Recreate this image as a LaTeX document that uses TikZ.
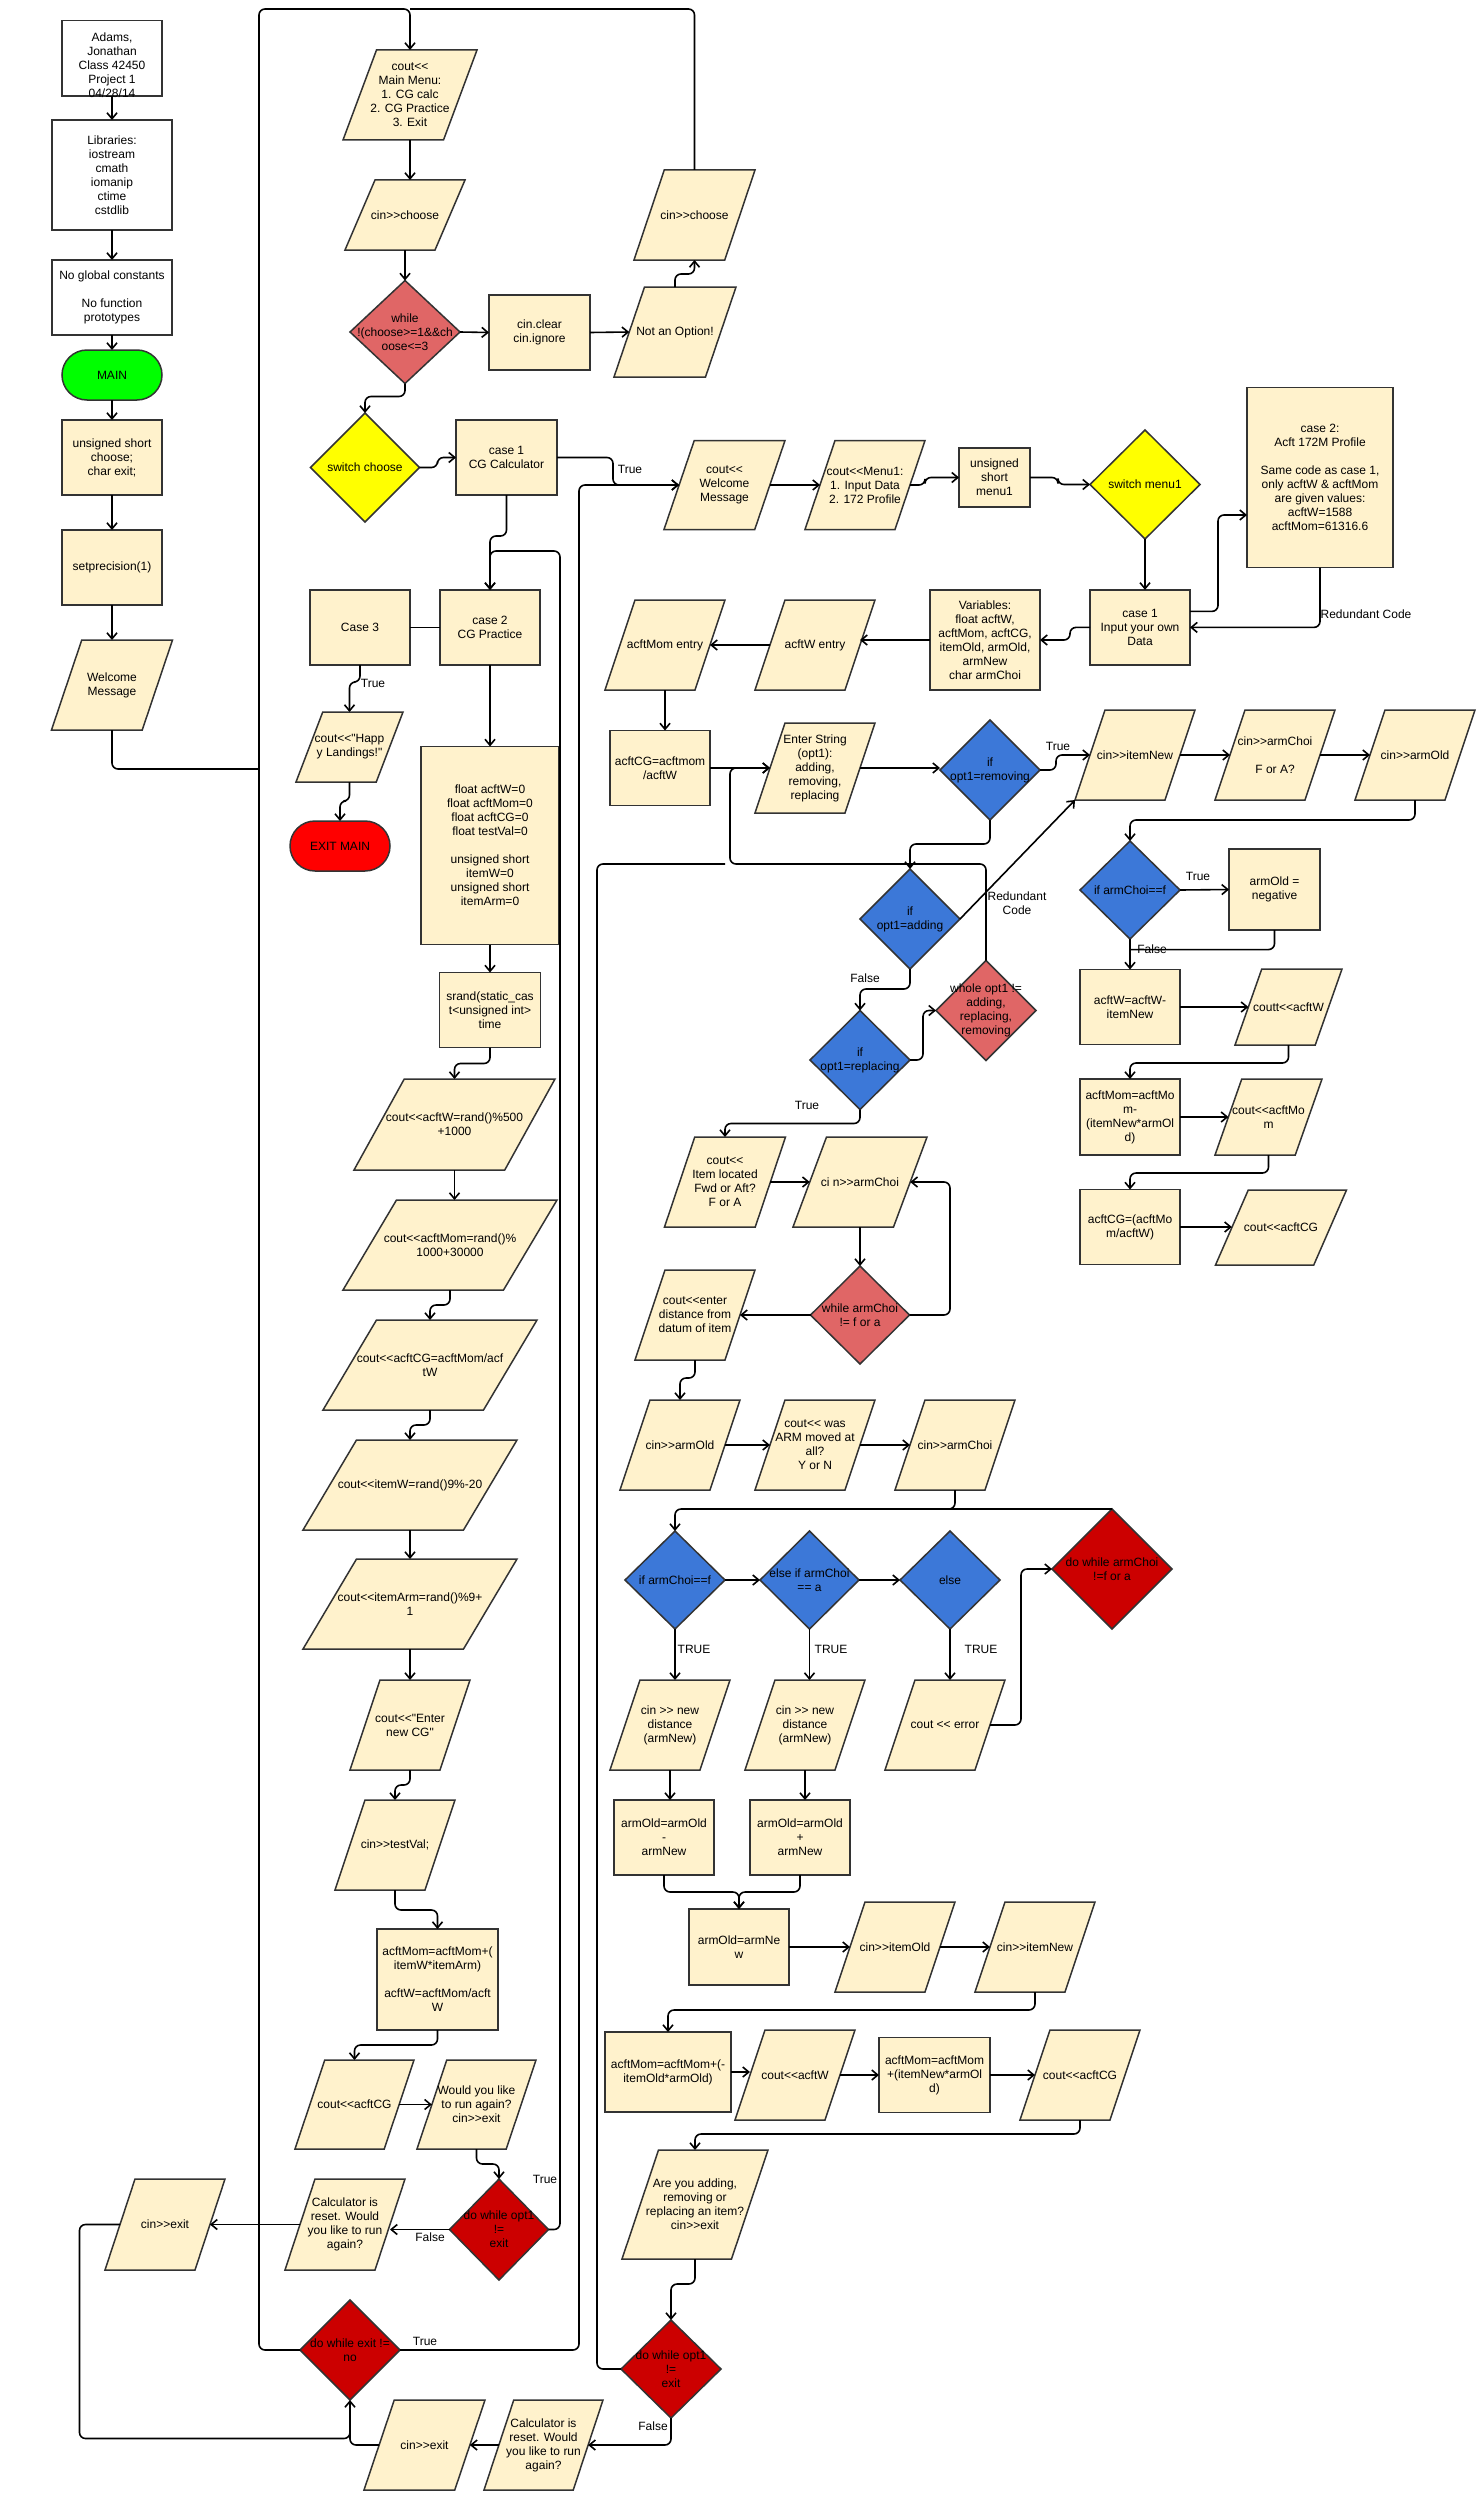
\documentclass[tikz,border=0pt]{standalone}
\usepackage{fontspec}
\newfontfamily\lsans{Liberation Sans}
\usetikzlibrary{shapes.geometric,arrows.meta,calc}
\definecolor{cream}{HTML}{FFF2CC}
\definecolor{lred}{HTML}{E06666}
\definecolor{dred}{HTML}{CC0000}
\definecolor{blu}{HTML}{3C78D8}
\definecolor{yel}{HTML}{FFFF00}
\definecolor{grn}{HTML}{00FF00}
\definecolor{rd}{HTML}{FF0000}
\definecolor{lineC}{HTML}{333333}
\tikzset{
  shp/.style={draw=lineC, line width=1.5pt, line join=miter},
  box/.style={shp, rectangle, fill=cream, inner sep=0pt, outer sep=0pt},
  wbox/.style={box, fill=white},
  dia/.style={shp, diamond, inner sep=0pt, outer sep=0pt},
  term/.style={box, rounded corners=25pt},
  txt/.style={font=\lsans\fontsize{12}{14}\selectfont, align=center, inner sep=0pt, text=black},
  lbl/.style={font=\lsans\fontsize{12}{14}\selectfont, align=center, inner sep=0pt, text=black},
  arr/.style={draw=black, line width=1.6pt, rounded corners=6pt, -{Straight Barb[length=6pt,width=10pt]}},
  ln/.style={draw=black, line width=1.6pt, rounded corners=6pt},
}
\newcommand\mkbox[7][box]{%
  \node[#1, minimum width=#5, minimum height=#6] (#2) at (#3,#4) {};
  \node[txt] (#2-t) at (#2.center) {#7};}
\newcommand\mkpara[6]{%
  \filldraw[shp, fill=cream] ({#2-#4/4},{#3-#5/2}) -- ({#2+#4/2},{#3-#5/2}) -- ({#2+#4/4},{#3+#5/2}) -- ({#2-#4/2},{#3+#5/2}) -- cycle;
  \node[inner sep=0pt, outer sep=0pt, minimum width={0.75*#4}, minimum height=#5] (#1) at (#2,#3) {};
  \coordinate (#1-bl) at ({#2-#4/2},{#3+#5/2});
  \node[txt] (#1-t) at (#1.center) {#6};}
\begin{document}
\begin{tikzpicture}[x=1pt,y=-1pt]
\fill[white] (0,0) rectangle (1480,2510);
\useasboundingbox (0,0) rectangle (1480,2510);

% ---------------- left column
\mkbox[wbox]{adams}{112}{58.5}{100}{75.5}{}
\node[txt] (adamstext) at (112,65) {Adams,\\Jonathan\\Class 42450\\Project 1\\04/28/14};
\mkbox[wbox]{libs}{112}{175}{120}{110}{Libraries:\\iostream\\cmath\\iomanip\\ctime\\cstdlib}
\mkbox[wbox]{noglobal}{112}{297.5}{120}{75}{No global constants\\[14pt]No function\\prototypes}
\mkbox[term, fill=grn]{main}{112}{375}{100}{50}{MAIN}
\mkbox{unsig}{112}{457.5}{100}{75}{unsigned short\\choose;\\char exit;}
\mkbox{setprec}{112}{567.5}{100}{75}{setprecision(1)}
\mkpara{welcome}{112}{685}{121}{90}{Welcome\\Message}

% ---------------- centre column
\mkpara{mainmenu}{410}{95}{134}{90}{cout<<\\Main Menu:\\1. CG calc\\2. CG Practice\\3. Exit}
\mkpara{cinchoose}{405}{215}{120}{70}{cin>>choose}
\mkbox[dia, fill=lred]{while}{405}{332}{110}{103}{while\\!(choose>=1\&\&ch\\oose<=3}
\mkbox{cinclear}{539.5}{332.5}{101}{75}{cin.clear\\cin.ignore}
\mkpara{notopt}{675}{332}{122}{90}{Not an Option!}
\mkpara{cinchoose2}{694.5}{215}{121}{90}{cin>>choose}
\mkbox[dia, fill=yel]{switch}{365}{467.5}{109}{109}{switch choose}
\mkbox{case1}{506.5}{457.5}{101}{75}{case 1\\CG Calculator}
\mkbox{case3}{360}{627.5}{100}{75}{Case 3}
\mkbox{case2}{490}{627.5}{100}{75}{case 2\\CG Practice}
\mkpara{happy}{349.5}{747}{107}{70}{cout<<"Happ\\y Landings!"}
\mkbox[term, fill=rd]{exitmain}{340}{846}{100}{50}{EXIT MAIN}
\mkbox{float}{490}{845.5}{138}{198}{float acftW=0\\float acftMom=0\\float acftCG=0\\float testVal=0\\[14pt]unsigned short\\itemW=0\\unsigned short\\itemArm=0}
\mkbox{srand}{490}{1010}{101}{75}{srand(static\_cas\\t<unsigned int>\\time}
\mkpara{acftWrand}{454.5}{1124.5}{201}{91}{cout<<acftW=rand()\%500\\+1000}
\mkpara{acftMomrand}{450}{1245}{214}{90}{cout<<acftMom=rand()\%\\1000+30000}
\mkpara{acftCGrand}{430}{1365}{214}{90}{cout<<acftCG=acftMom/acf\\tW}
\mkpara{itemWrand}{410}{1485}{214}{90}{cout<<itemW=rand()9\%-20}
\mkpara{itemArm}{410}{1604}{214}{90}{cout<<itemArm=rand()\%9+\\1}
\mkpara{enterCG}{410}{1725}{120}{90}{cout<<"Enter\\new CG"}
\mkpara{testVal}{395}{1845}{120}{90}{cin>>testVal;}
\mkbox{acftMomP}{437.5}{1979.5}{121}{101}{acftMom=acftMom+(\\itemW*itemArm)\\[14pt]acftW=acftMom/acft\\W}
\mkpara{coutCGL}{354.5}{2104.5}{119}{89}{cout<<acftCG}
\mkpara{wouldyou}{476.5}{2104.5}{119}{89}{Would you like\\to run again?\\cin>>exit}
\mkbox[dia, fill=dred]{dwo1L}{499}{2229.5}{99}{101}{do while opt1\\!=\\exit}
\mkpara{calcL}{345}{2224.5}{120}{91}{Calculator is\\reset. Would\\you like to run\\again?}
\mkpara{cinexitL}{165}{2224.5}{120}{91}{cin>>exit}
\mkbox[dia, fill=dred]{dwexit}{350}{2350}{100}{100}{do while exit !=\\no}
\mkpara{cinexitB}{424.5}{2445}{121}{90}{cin>>exit}
\mkpara{calcB}{543.5}{2445}{119}{90}{Calculator is\\reset. Would\\you like to run\\again?}

% ---------------- right part, top
\mkpara{welcome1}{724.5}{485}{121}{89}{cout<<\\Welcome\\Message}
\mkpara{menu1}{865}{485}{120}{89}{cout<<Menu1:\\1. Input Data\\2. 172 Profile}
\mkbox{umenu1}{994.5}{477.5}{71}{59}{unsigned\\short\\menu1}
\mkbox[dia, fill=yel]{switchm1}{1145}{484.5}{110}{109}{switch menu1}
\mkbox{case1in}{1140}{627.4}{100}{75}{case 1\\Input your own\\Data}
\mkbox{case2a}{1320}{477.5}{146}{180}{case 2:\\Acft 172M Profile\\[14pt]Same code as case 1,\\only acftW \& acftMom\\are given values:\\acftW=1588\\acftMom=61316.6}
\mkbox{variables}{985}{640}{110}{100}{Variables:\\float acftW,\\acftMom, acftCG,\\itemOld, armOld,\\armNew\\char armChoi}
\mkpara{acftWent}{815}{645}{120}{90}{acftW entry}
\mkpara{acftMoment}{665}{645}{120}{90}{acftMom entry}
\mkbox{acftCGbox}{660}{768}{100}{75}{acftCG=acftmom\\/acftW}
\mkpara{enterstr}{815}{768}{120}{90}{Enter String\\(opt1):\\adding,\\removing,\\replacing}
\mkbox[dia, fill=blu]{ifrem}{990}{770}{100}{100}{if\\opt1=removing}
\mkpara{cinitemnew}{1135}{755}{120}{90}{cin>>itemNew}
\mkpara{cinarmchoiFA}{1275}{755}{120}{90}{cin>>armChoi\\[14pt]F or A?}
\mkpara{cinarmold1}{1415}{755}{120}{90}{cin>>armOld}
\mkbox[dia, fill=blu]{ifarm1}{1130}{890}{100}{98}{if armChoi==f}
\mkbox{armneg}{1274.5}{889.5}{91}{81}{armOld =\\negative}
\mkbox{acftWW}{1130}{1007}{100}{75}{acftW=acftW-\\itemNew}
\mkpara{coutt}{1288.5}{1007}{107}{76}{coutt<<acftW}
\mkbox{acftMomM}{1130}{1117}{100}{76}{acftMom=acftMo\\m-\\(itemNew*armOl\\d)}
\mkpara{coutMom}{1268.5}{1117}{107}{76}{cout<<acftMo\\m}
\mkbox{acftCGC}{1130}{1227}{100}{75}{acftCG=(acftMo\\m/acftW)}
\mkpara{coutCG1}{1281}{1227.5}{131}{75}{cout<<acftCG}
\mkbox[dia, fill=blu]{ifadd}{910}{919}{100}{100}{if\\opt1=adding}
\mkbox[dia, fill=blu]{ifrep}{860}{1060}{100}{99}{if\\opt1=replacing}
\mkbox[dia, fill=lred]{whole}{986}{1010.5}{100}{100}{whole opt1 !=\\adding,\\replacing,\\removing}
\mkpara{itemloc}{725}{1182}{121}{90}{cout<<\\Item located\\Fwd or Aft?\\F or A}
\mkpara{cinarmchoi1}{860}{1182}{134}{90}{ci n>>armChoi}
\mkbox[dia, fill=lred]{whilearm}{860}{1315}{99}{98}{while armChoi\\!= f or a}
\mkpara{enterdist}{695}{1315}{120}{90}{cout<<enter\\distance from\\datum of item}
\mkpara{cinarmold2}{680}{1445}{120}{90}{cin>>armOld}
\mkpara{wasarm}{815}{1445}{120}{90}{cout<< was\\ARM moved at\\all?\\Y or N}
\mkpara{cinarmchoi2}{955}{1445}{120}{90}{cin>>armChoi}
\mkbox[dia, fill=blu]{ifarm2}{675}{1580}{100}{98}{if armChoi==f}
\mkbox[dia, fill=blu]{elseif}{809.5}{1580}{99}{98}{else if armChoi\\== a}
\mkbox[dia, fill=blu]{els}{950}{1580}{100}{98}{else}
\mkbox[dia, fill=dred]{dowhilearm}{1112}{1569}{120}{120}{do while armChoi\\!=f or a}
\mkpara{cinnew1}{670}{1725}{120}{90}{cin >> new\\distance\\(armNew)}
\mkpara{cinnew2}{805}{1725}{120}{90}{cin >> new\\distance\\(armNew)}
\mkpara{couterr}{945}{1725}{120}{90}{cout << error}
\mkbox{armoldM}{664}{1837.5}{100}{75}{armOld=armOld\\-\\armNew}
\mkbox{armoldP}{800}{1837.5}{100}{75}{armOld=armOld\\+\\armNew}
\mkbox{armnew}{739}{1947}{100}{76}{armOld=armNe\\w}
\mkpara{cinitemold}{895}{1947}{120}{90}{cin>>itemOld}
\mkpara{cinitemnew2}{1035}{1947}{120}{90}{cin>>itemNew}
\mkbox{acftMomPN}{668}{2072}{126}{80}{acftMom=acftMom+(-\\itemOld*armOld)}
\mkpara{coutW3}{795}{2075}{120}{90}{cout<<acftW}
\mkbox{acftMomNew}{934.5}{2075}{111}{75}{acftMom=acftMom\\+(itemNew*armOl\\d)}
\mkpara{coutCG3}{1080}{2075}{120}{90}{cout<<acftCG}
\mkpara{areyou}{695}{2204.5}{146}{109}{Are you adding,\\removing or\\replacing an item?\\cin>>exit}
\mkbox[dia, fill=dred]{dwo1R}{671}{2369}{100}{98}{do while opt1\\!=\\exit}

% ---------------- connectors: left column
\coordinate (tl) at (259,9);
\draw[arr] (adams.south) -- (libs.north);
\draw[arr] (libs.south) -- (noglobal.north);
\draw[arr] (noglobal.south) -- (main.north);
\draw[arr] (main.south) -- (unsig.north);
\draw[arr] (unsig.south) -- (setprec.north);
\draw[arr] (setprec.south) -- (welcome.north);
\draw[ln] (welcome.south) |- (259,769);
\draw[arr] (dwexit.west) -| (tl) -| (mainmenu.north);
\draw[ln] (cinchoose2.north) |- (mainmenu.north |- tl);

% centre column
\draw[arr] (mainmenu.south) -- (mainmenu.south |- cinchoose.north);
\draw[arr] (cinchoose.south) -- (while.north);
\draw[arr] (while.south) -- ++(0,13) -| (switch.north);
\draw[arr] (while.east) -- (cinclear.west);
\draw[arr] (cinclear.east) -- (notopt.west);
\draw[arr] (notopt.north) -- ++(0,-13) -| (cinchoose2.south);
\draw[arr] (switch.east) -- ++(18,0) |- (case1.west);
\draw[arr] (case1.east) -| (613,485) -- (welcome1.west);
\node[lbl] (lt1) at (630,469) {True};
\draw[arr] (case1.south) -- ++(0,41) -| (case2.north);
\draw[arr] (dwo1L.east) -| (560,551) -| (case2.north);
\draw[ln] (case3.east) -- (case2.west);
\draw[arr] (case3.south) -- ++(0,17) -| (happy.north);
\node[lbl] (lt2) at (373,683) {True};
\draw[arr] (happy.south) -- ++(0,19) -| (exitmain.north);
\draw[arr] (case2.south) -- (float.north);
\draw[arr] (float.south) -- (srand.north);
\draw[arr] (srand.south) -- ++(0,16) -| (acftWrand.north);
\draw[arr] (acftWrand.south) -- (acftWrand.south |- acftMomrand.north);
\draw[arr] (acftMomrand.south) -- ++(0,15) -| (acftCGrand.north);
\draw[arr] (acftCGrand.south) -- ++(0,15) -| (itemWrand.north);
\draw[arr] (itemWrand.south) -- (itemArm.north);
\draw[arr] (itemArm.south) -- (enterCG.north);
\draw[arr] (enterCG.south) -- ++(0,15) -| (testVal.north);
\draw[arr] (testVal.south) -- ++(0,20) -| (acftMomP.north);
\draw[arr] (acftMomP.south) -- ++(0,15) -| (coutCGL.north);
\draw[arr] (coutCGL.east) -- (wouldyou.west);
\draw[arr] (wouldyou.south) -- ++(0,15) -| (dwo1L.north);
\node[lbl] (lt3) at (545,2179) {True};
\draw[arr] (dwo1L.west) -- (dwo1L.west -| calcL.east);
\node[lbl] (lf1) at (430,2237) {False};
\draw[arr] (calcL.west) -- (cinexitL.east);
\draw[arr] (cinexitL.west) -| (79.5,2438.5) -| (dwexit.south);
\draw[ln] (cinexitB.west) -| ($(dwexit.south)+(0,20)$);
\draw[arr] (calcB.west) -- (cinexitB.east);
\draw[arr] (dwo1R.south) |- (calcB.east);
\node[lbl] (lf2) at (653,2426) {False};
\draw[arr] (dwexit.east) -| (579,485) -- (welcome1.west);
\node[lbl] (lt4) at (425,2341) {True};

% right part
\draw[arr] (welcome1.east) -- (menu1.west);
\draw[arr] (menu1.east) -- ++(15,0) |- (umenu1.west);
\draw[arr] (umenu1.east) -- ++(28,0) |- (switchm1.west);
\draw[arr] (switchm1.south) -- (switchm1.south |- case1in.north);
\draw[arr] ($(case1in.east)+(0,-16)$) -| (1218,515) -- ($(case2a.west)+(0,37.5)$);
\draw[arr] (case2a.south) |- (case1in.east);
\node[lbl] (lrc1) at (1366,614) {Redundant Code};
\draw[arr] (case1in.west) -- ++(-20,0) |- (variables.east);
\draw[arr] (variables.west) -- (variables.west -| acftWent.east);
\draw[arr] (acftWent.west) -- (acftMoment.east);
\draw[arr] (acftMoment.south) -- (acftMoment.south |- acftCGbox.north);
\draw[arr] (acftCGbox.east) -- (enterstr.west);
\draw[arr] (enterstr.east) -- (enterstr.east -| ifrem.west);
\draw[arr] (ifrem.east) -- ++(16,0) |- (cinitemnew.west);
\node[lbl] (lt5) at (1058,746.5) {True};
\draw[arr] (cinitemnew.east) -- (cinarmchoiFA.west);
\draw[arr] (cinarmchoiFA.east) -- (cinarmold1.west);
\draw[arr] (cinarmold1.south) -- ++(0,20) -| (ifarm1.north);
\draw[arr] (ifarm1.east) -- (armneg.west);
\node[lbl] (lt6) at (1198,876) {True};
\draw[arr] (ifarm1.south) -- (acftWW.north);
\node[lbl] (lf3) at (1152,949.6) {False};
\draw[ln] (armneg.south) |- (1130,949.6);
\draw[arr] (acftWW.east) -- (acftWW.east -| coutt.west);
\draw[arr] (coutt.south) -- ++(0,18) -| (acftMomM.north);
\draw[arr] (acftMomM.east) -- (coutMom.west);
\draw[arr] (coutMom.south) -- ++(0,18) -| (acftCGC.north);
\draw[arr] (acftCGC.east) -- (acftCGC.east -| coutCG1.west);
\draw[arr] (ifrem.south) -- ++(0,24) -| (ifadd.north);
\draw[arr] (ifadd.south) -- ++(0,20) -| (ifrep.north);
\node[lbl] (lf4) at (865,978.6) {False};
\draw[arr] (ifadd.east) -- (cinitemnew-bl);
\node[lbl] (lrc2) at (1017,903) {Redundant\\Code};
\draw[arr] (ifrep.east) -- ++(13,0) |- (whole.west);
\draw[arr] (whole.north) |- (730,864) |- (enterstr.west);
\draw[ln] (dwo1R.west) -| (597,864) -- (725,864);
\draw[arr] (ifrep.south) -- ++(0,14) -| (itemloc.north);
\node[lbl] (lt7) at (807,1105) {True};
\draw[arr] (itemloc.east) -- (cinarmchoi1.west);
\draw[arr] (cinarmchoi1.south) -- (whilearm.north);
\draw[arr] (whilearm.west) -- (enterdist.east);
\draw[arr] (whilearm.east) -| (950,1182) -- (cinarmchoi1.east);
\draw[arr] (enterdist.south) -- ++(0,18) -| (cinarmold2.north);
\draw[arr] (cinarmold2.east) -- (wasarm.west);
\draw[arr] (wasarm.east) -- (cinarmchoi2.west);
\draw[ln] (cinarmchoi2.south) |- (935,1509);
\draw[arr] (dowhilearm.north) -- (ifarm2.north |- dowhilearm.north) -- (ifarm2.north);
\draw[arr] (ifarm2.east) -- (elseif.west);
\draw[arr] (elseif.east) -- (els.west);
\draw[arr] (ifarm2.south) -- (ifarm2.south |- cinnew1.north);
\node[lbl] (lT1) at (694,1649) {TRUE};
\draw[arr] (elseif.south) -- (elseif.south |- cinnew2.north);
\node[lbl] (lT2) at (831,1649) {TRUE};
\draw[arr] (els.south) -- (els.south |- couterr.north);
\node[lbl] (lT3) at (981,1649) {TRUE};
\draw[arr] (couterr.east) -| (1021,1569) -- (dowhilearm.west);
\draw[arr] (cinnew1.south) -- (cinnew1.south |- armoldM.north);
\draw[arr] (cinnew2.south) -- (cinnew2.south |- armoldP.north);
\draw[arr] (armoldM.south) -- ++(0,17) -| (armnew.north);
\draw[arr] (armoldP.south) -- ++(0,17) -| (armnew.north);
\draw[arr] (armnew.east) -- (cinitemold.west);
\draw[arr] (cinitemold.east) -- (cinitemnew2.west);
\draw[arr] (cinitemnew2.south) -- ++(0,18) -| (acftMomPN.north);
\draw[arr] (acftMomPN.east) -- (acftMomPN.east -| coutW3.west);
\draw[arr] (coutW3.east) -- (acftMomNew.west);
\draw[arr] (acftMomNew.east) -- (coutCG3.west);
\draw[arr] (coutCG3.south) -- ++(0,14) -| (areyou.north);
\draw[arr] (areyou.south) -- ++(0,25) -| (dwo1R.north);
\end{tikzpicture}
\end{document}
